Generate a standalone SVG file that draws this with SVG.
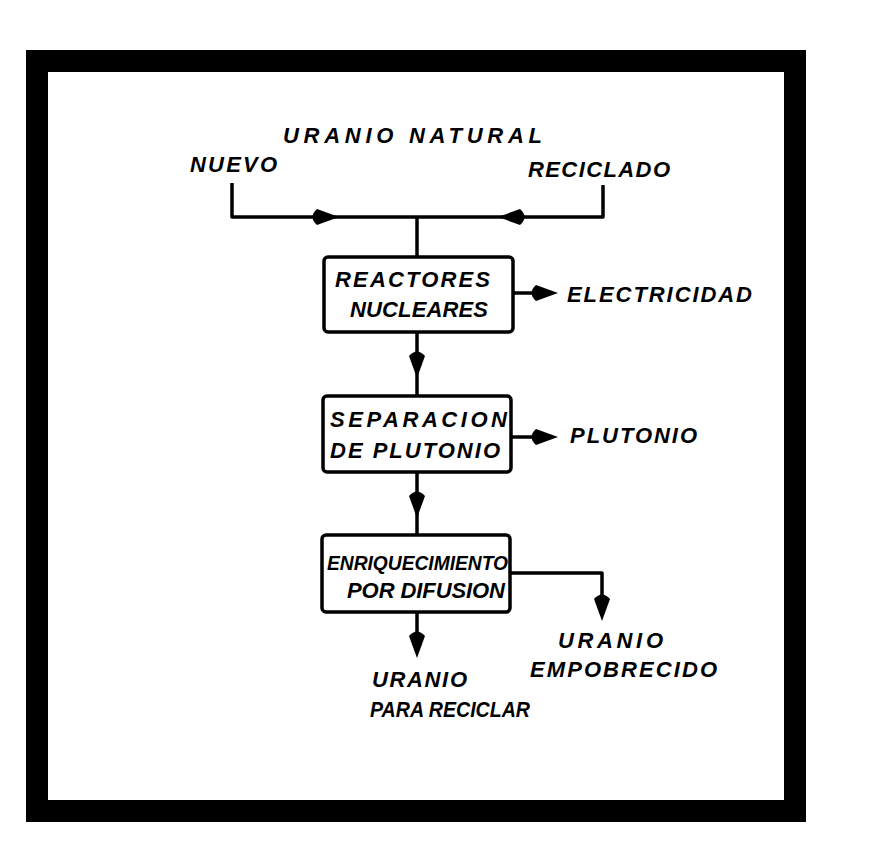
<svg xmlns="http://www.w3.org/2000/svg" xmlns:xlink="http://www.w3.org/1999/xlink" width="869" height="843" viewBox="0 0 869 843">
<style>
.lbl{font-family:"Liberation Sans",Arial,sans-serif;font-weight:bold;font-style:italic;font-size:22px;fill:#000}
.box{fill:#fff;stroke:#000;stroke-width:3.5}
.ln{fill:none;stroke:#000;stroke-width:3.5;stroke-linejoin:round}
</style>
<defs>
<path id="ah" d="M0,0 L-22,-8 Q-31,0 -22,8 Z" fill="#000"/>
</defs>
<rect x="0" y="0" width="869" height="843" fill="#fff"/>
<rect x="37" y="61" width="758" height="750" fill="none" stroke="#000" stroke-width="22"/>

<g id="connectors">
<path class="ln" d="M232,183 V217 H603 V185"/>
<path class="ln" d="M417,217 V257"/>
<use xlink:href="#ah" transform="translate(339,217)"/>
<use xlink:href="#ah" transform="translate(498,217) rotate(180)"/>
<path class="ln" d="M417,332 V397"/>
<use xlink:href="#ah" transform="translate(417,378) rotate(90)"/>
<path class="ln" d="M513,293 H540"/>
<use xlink:href="#ah" transform="translate(558,293)"/>
<path class="ln" d="M511,437 H540"/>
<use xlink:href="#ah" transform="translate(558,437)"/>
<path class="ln" d="M417,472 V535"/>
<use xlink:href="#ah" transform="translate(417,518) rotate(90)"/>
<path class="ln" d="M510,573 H602 V605"/>
<use xlink:href="#ah" transform="translate(602,621) rotate(90)"/>
<path class="ln" d="M417,612 V640"/>
<use xlink:href="#ah" transform="translate(417,658) rotate(90)"/>
</g>

<g id="uranio-natural">
<text class="lbl" x="283" y="143" textLength="259" lengthAdjust="spacing">URANIO NATURAL</text>
</g>
<g id="nuevo">
<text class="lbl" x="190" y="172" textLength="87" lengthAdjust="spacing">NUEVO</text>
</g>
<g id="reciclado">
<text class="lbl" x="528" y="177" textLength="142" lengthAdjust="spacing">RECICLADO</text>
</g>

<g id="reactores">
<rect class="box" x="324" y="257" width="189" height="75" rx="4"/>
<text class="lbl" x="335" y="287" textLength="155" lengthAdjust="spacing">REACTORES</text>
<text class="lbl" x="350" y="317" textLength="138" lengthAdjust="spacing">NUCLEARES</text>
</g>
<g id="electricidad">
<text class="lbl" x="567" y="302" textLength="185" lengthAdjust="spacing">ELECTRICIDAD</text>
</g>

<g id="separacion">
<rect class="box" x="323" y="396" width="188" height="76" rx="4"/>
<text class="lbl" x="330" y="427" textLength="177" lengthAdjust="spacing">SEPARACION</text>
<text class="lbl" x="330" y="458" textLength="170" lengthAdjust="spacing">DE PLUTONIO</text>
</g>
<g id="plutonio">
<text class="lbl" x="570" y="443" textLength="127" lengthAdjust="spacing">PLUTONIO</text>
</g>

<g id="enriquecimiento">
<rect class="box" x="322" y="535" width="188" height="77" rx="4"/>
<text class="lbl" x="327" y="570" textLength="181" lengthAdjust="spacingAndGlyphs" style="font-size:20px">ENRIQUECIMIENTO</text>
<text class="lbl" x="347" y="598" textLength="158" lengthAdjust="spacing">POR DIFUSION</text>
</g>

<g id="uranio-empobrecido">
<text class="lbl" x="558" y="648" textLength="105" lengthAdjust="spacing">URANIO</text>
<text class="lbl" x="530" y="677" textLength="187" lengthAdjust="spacing">EMPOBRECIDO</text>
</g>
<g id="uranio-reciclar">
<text class="lbl" x="372" y="687" textLength="95" lengthAdjust="spacing">URANIO</text>
<text class="lbl" x="370" y="717" textLength="160" lengthAdjust="spacingAndGlyphs">PARA RECICLAR</text>
</g>
</svg>
